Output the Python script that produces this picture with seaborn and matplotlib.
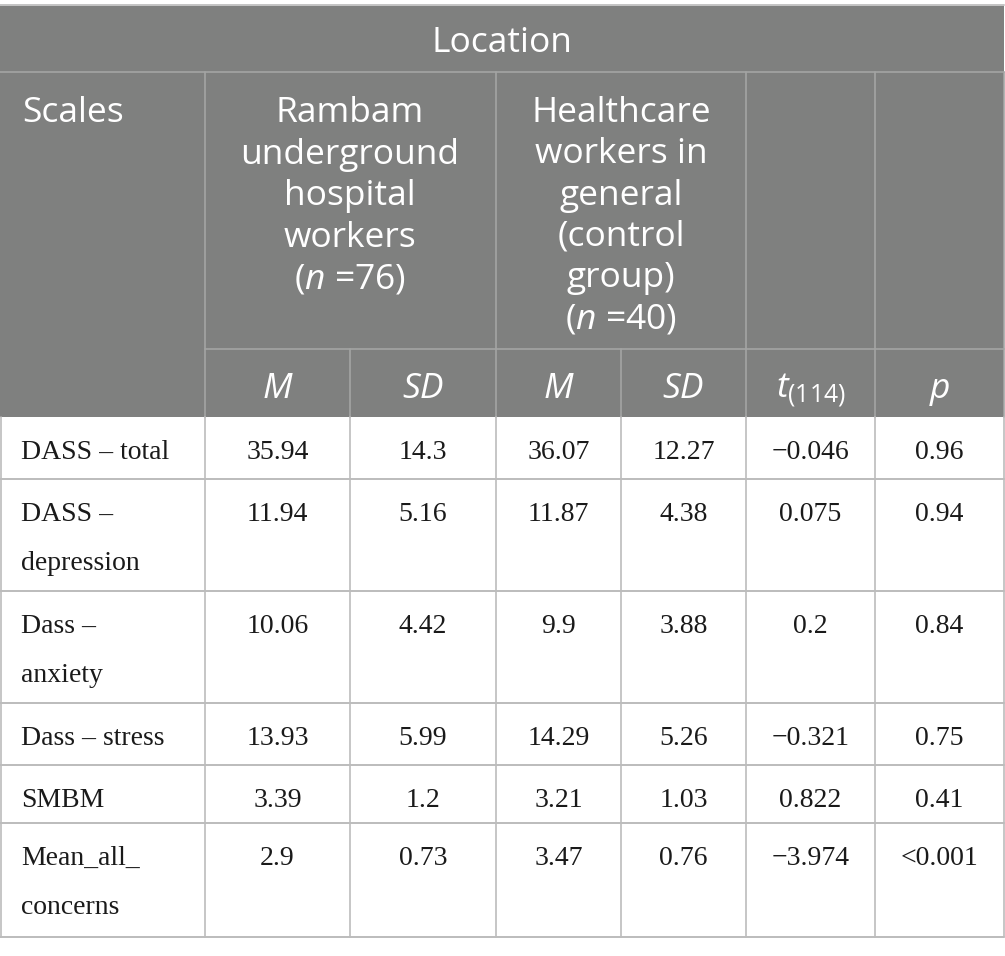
import matplotlib
matplotlib.use("Agg")
import matplotlib.pyplot as plt
import seaborn as sns

# Table content
scales = ["DASS – total", "DASS –\ndepression", "Dass –\nanxiety",
          "Dass – stress", "SMBM", "Mean_all_\nconcerns"]
rambam_m = ["35.94", "11.94", "10.06", "13.93", "3.39", "2.9"]
rambam_sd = ["14.3", "5.16", "4.42", "5.99", "1.2", "0.73"]
control_m = ["36.07", "11.87", "9.9", "14.29", "3.21", "3.47"]
control_sd = ["12.27", "4.38", "3.88", "5.26", "1.03", "0.76"]
t_vals = ["\u22120.046", "0.075", "0.2", "\u22120.321", "0.822", "\u22123.974"]
p_vals = ["0.96", "0.94", "0.84", "0.75", "0.41", "<0.001"]

title = "Location"
first_col = "Scales"
group_rambam = ["Rambam", "underground", "hospital", "workers", r"($\mathit{n}$ =76)"]
group_control = ["Healthcare", "workers in", "general", "(control", "group)", r"($\mathit{n}$ =40)"]
sub_heads = ["M", "SD", "M", "SD", r"$\mathit{t}_{(114)}$", "p"]

sns.set_theme(style="white")
plt.rcParams["mathtext.fontset"] = "custom"
plt.rcParams["mathtext.rm"] = "Open Sans"
plt.rcParams["mathtext.it"] = "Open Sans:italic"

HEAD_BG = "#7f807f"
HEAD_LINE = "#a4a5a4"
BODY_LINE = "#bcbcbc"
HEAD_FONT = "Open Sans"
BODY_FONT = "Liberation Serif"

# column edges / row edges in pixel units
col_x = [0, 205, 350, 496, 621, 746, 875, 1004]
row_y = [417, 479, 591, 703, 765, 823, 937]

fig = plt.figure(figsize=(10.05, 9.56), dpi=100)
ax = fig.add_axes([0, 0, 1, 1])
ax.set_xlim(0, 1005)
ax.set_ylim(956, 0)
ax.axis("off")

# header background
ax.fill_between([0, 1004], 5, 417, color=HEAD_BG, lw=0)
ax.plot([0, 1004], [4.5, 4.5], color="#c4c4c4", lw=1.4)

# header grid
ax.plot([0, 1004], [72, 72], color=HEAD_LINE, lw=1.2)
ax.plot([205, 1004], [349, 349], color=HEAD_LINE, lw=1.2)
for x in [205, 496, 746, 875, 1004]:
    ax.plot([x, x], [72, 417], color=HEAD_LINE, lw=1.2)
for x in [350, 621]:
    ax.plot([x, x], [349, 417], color=HEAD_LINE, lw=1.2)

# body grid
for y in row_y[1:]:
    ax.plot([0, 1004], [y, y], color=BODY_LINE, lw=1.4)
for x in col_x:
    ax.plot([x + (0.6 if x == 0 else 0)] * 2, [417, 937], color=BODY_LINE, lw=1.2)

# header text
hkw = dict(color="white", family=HEAD_FONT, fontsize=25.5, va="baseline")
ax.text(502, 52, title, ha="center", **hkw)
ax.text(22, 122, first_col, ha="left", **hkw)
for i, line in enumerate(group_rambam):
    ax.text(350, 122 + i * 41.5, line, ha="center", **hkw)
for i, line in enumerate(group_control):
    ax.text(621, 122 + i * 41.3, line, ha="center", **hkw)
for i, lab in enumerate(sub_heads):
    cx = (col_x[i + 1] + col_x[i + 2]) / 2
    style = "normal" if lab.startswith("$") else "italic"
    ax.text(cx, 398, lab, ha="center", fontstyle=style, **hkw)

# body text
bkw = dict(color="#1a1a1a", family=BODY_FONT, fontsize=20, va="baseline")
columns = [rambam_m, rambam_sd, control_m, control_sd, t_vals, p_vals]
for r, name in enumerate(scales):
    base = row_y[r] + 42
    for k, line in enumerate(name.split("\n")):
        ax.text(21, base + k * 49, line, ha="left", **bkw)
    for c, vals in enumerate(columns):
        cx = (col_x[c + 1] + col_x[c + 2]) / 2
        ax.text(cx, base, vals[r], ha="center", **bkw)

fig.savefig("out.png", dpi=100)
